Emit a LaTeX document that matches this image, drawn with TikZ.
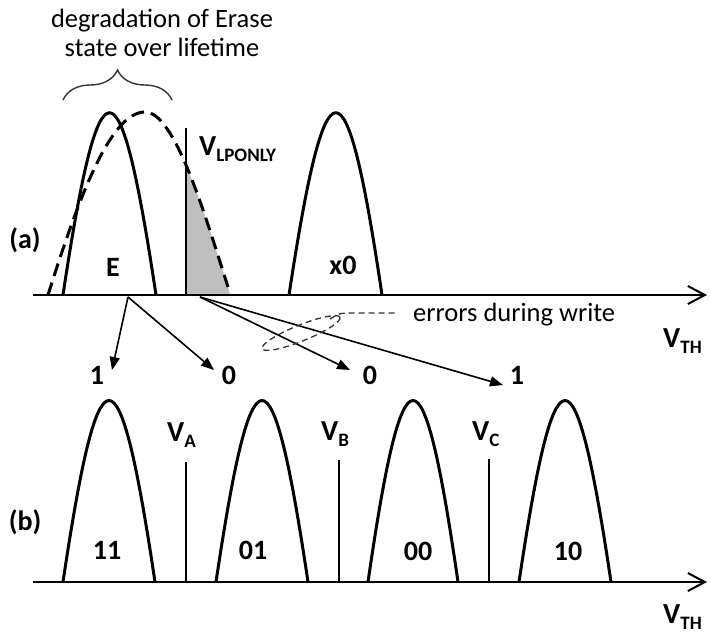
\documentclass[tikz,border=0pt]{standalone}
\usepackage{fontspec}
\setmainfont{Carlito}
\usetikzlibrary{arrows.meta,decorations.pathreplacing}
\newcommand\vsubl[1]{V\raisebox{-6pt}{\fontsize{19}{21}\selectfont #1}}
\begin{document}
\begin{tikzpicture}[x=1pt,y=-1pt,
  bump/.style={line width=3pt},
  axisline/.style={line width=2pt,-{Straight Barb[length=17pt,width=18pt,line width=2pt]}},
  thr/.style={line width=1.6pt},
  arr/.style={line width=1.6pt,-{Triangle[length=13pt,width=10pt]}},
  lab/.style={font=\fontsize{28}{30}\selectfont\bfseries, inner sep=0pt},
  vlab/.style={font=\fontsize{29}{32}\selectfont\bfseries, inner sep=0pt, anchor=base west},
  txt/.style={font=\fontsize{26.5}{29}\selectfont, inner sep=0pt, align=center},
  dashcurve/.style={line width=3pt, dash pattern=on 13pt off 7pt},
]
\useasboundingbox (0,0) rectangle (711,633);

% ---------------- (a) ----------------
\begin{scope}
\clip (186,0) rectangle (260,295);
\fill[gray!50] (48,295) .. controls (78,200) and (110,112) .. (145,112)
  .. controls (175,112) and (205,215) .. (228,287) -- (230,295) -- cycle;
\end{scope}

\coordinate (vlt) at (186,128);
\coordinate (vlb) at (186,295);
\draw[thr] (vlt) -- (vlb);

\coordinate (ax1s) at (33,295);
\coordinate (ax1e) at (707,295);
\draw[axisline] (ax1s) -- (ax1e);

\draw[dashcurve] (48,295) .. controls (78,200) and (110,112) .. (145,112)
  .. controls (175,112) and (205,215) .. (228,287);

\draw[bump] (63,295) .. controls (99.5,52) and (119.5,52) .. (156,295);
\draw[bump] (289,295) .. controls (326,52) and (346,52) .. (382,295);

\draw[decorate, decoration={brace, amplitude=30pt}, line width=1.4pt, black!80] (63,100) -- (172,100);

\node[txt] (deg) at (162,33) {degradation of Erase\\state over lifetime};
\node[lab] (la) at (25,240) {(a)};
\node[lab] (E) at (113,267) {E};
\node[lab] (x0) at (343,265) {x0};
\node[vlab] (vlp) at (199,155) {\vsubl{LPONLY}};
\node[vlab] (vth1) at (663,347) {\vsubl{TH}};

% arrows
\coordinate (s1) at (128,297);
\coordinate (s2) at (200,297);
\coordinate (t1) at (112,370);
\coordinate (t2) at (214,370);
\coordinate (t3) at (350,370);
\coordinate (t4) at (503,385);
\draw[arr] (s1) -- (t1);
\draw[arr] (s1) -- (t2);
\draw[arr] (s2) -- (t3);
\draw[arr] (s2) -- (t4);
\node[lab] (l1) at (97,375) {1};
\node[lab] (l2) at (229,375) {0};
\node[lab] (l3) at (370,375) {0};
\node[lab] (l4) at (517,375) {1};

% errors during write
\draw[line width=1.3pt, dash pattern=on 6pt off 4pt, black!80] (301,333) ellipse[x radius=42, y radius=8, rotate=22];
\coordinate (ldr1) at (330,319);
\coordinate (ldr2) at (398,313);
\draw[line width=1.3pt, dash pattern=on 6pt off 4pt, black!80] (ldr1) .. controls (340,313) .. (352,313) -- (ldr2);
\node[txt, anchor=west] (err) at (413,315) {errors during write};

% ---------------- (b) ----------------
\coordinate (ax2s) at (33,582);
\coordinate (ax2e) at (707,582);
\draw[axisline] (ax2s) -- (ax2e);

\draw[bump] (63,582) .. controls (99,340) and (119,340) .. (155,582);
\draw[bump] (216,582) .. controls (252,340) and (272,340) .. (308,582);
\draw[bump] (368,582) .. controls (403,340) and (423,340) .. (458,582);
\draw[bump] (519,582) .. controls (555,340) and (575,340) .. (611,582);

\coordinate (vat) at (186,462);
\coordinate (vab) at (186,582);
\coordinate (vbt) at (339,460);
\coordinate (vbb) at (339,582);
\coordinate (vct) at (489,459);
\coordinate (vcb) at (489,582);
\draw[thr] (vat) -- (vab);
\draw[thr] (vbt) -- (vbb);
\draw[thr] (vct) -- (vcb);

\node[vlab] (va) at (167,441) {\vsubl{A}};
\node[vlab] (vb) at (321,440) {\vsubl{B}};
\node[vlab] (vc) at (472,440) {\vsubl{C}};
\node[vlab] (vth2) at (663,623) {\vsubl{TH}};

\node[lab] (lb) at (25,522) {(b)};
\node[lab] (s11) at (107,550) {11};
\node[lab] (s01) at (253,550) {01};
\node[lab] (s00) at (418,551) {00};
\node[lab] (s10) at (568,551) {10};
\end{tikzpicture}
\end{document}
